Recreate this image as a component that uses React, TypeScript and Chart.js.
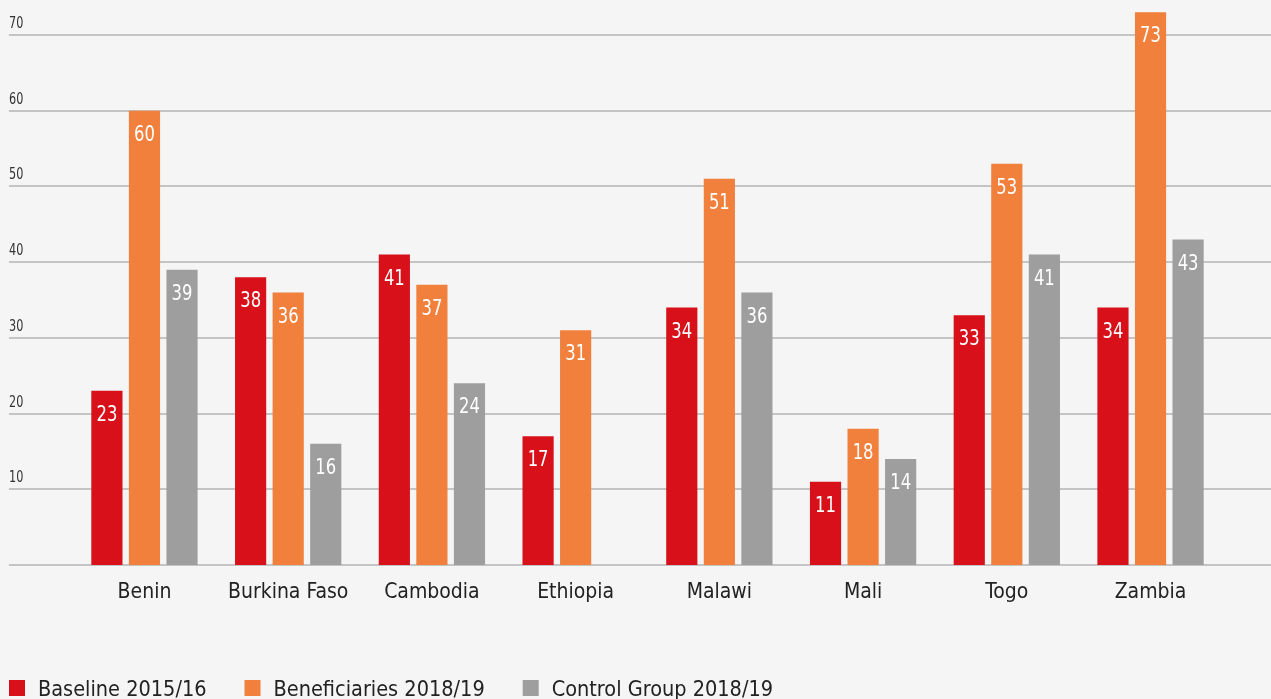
import { useEffect, useRef } from "react";
import { Chart, registerables } from "chart.js";

Chart.register(...registerables);

const categories = ["Benin", "Burkina Faso", "Cambodia", "Ethiopia", "Malawi", "Mali", "Togo", "Zambia"];
const baseline = [23, 38, 41, 17, 34, 11, 33, 34];
const beneficiaries = [60, 36, 37, 31, 51, 18, 53, 73];
const control: (number | null)[] = [39, 16, 24, null, 36, 14, 41, 43];
const seriesLabels = ["Baseline 2015/16", "Beneficiaries 2018/19", "Control Group 2018/19"];
const seriesColors = ["#d7101a", "#f0803c", "#9e9e9e"];
const yTicks = [0, 10, 20, 30, 40, 50, 60, 70];

const FONT = '"DejaVu Sans Condensed", "DejaVu Sans", sans-serif';
const W = 1271;
const H = 699;

function drawText(ctx: any, text: string, x: number, y: number, sx: number) {
  ctx.save();
  ctx.translate(x, y);
  ctx.scale(sx, 1);
  ctx.fillText(text, 0, 0);
  ctx.restore();
}

const bgPlugin = {
  id: "bg",
  beforeDraw(chart: any) {
    const ctx = chart.ctx;
    ctx.save();
    ctx.fillStyle = "#f5f5f5";
    ctx.fillRect(0, 0, chart.width, chart.height);
    ctx.restore();
  },
};

const gridPlugin = {
  id: "customGrid",
  beforeDatasetsDraw(chart: any) {
    const ctx = chart.ctx;
    const y = chart.scales.y;
    ctx.save();
    yTicks.forEach((v) => {
      const py = Math.round(y.getPixelForValue(v));
      ctx.strokeStyle = "#c4c4c4";
      ctx.lineWidth = 2;
      ctx.beginPath();
      ctx.moveTo(9, py);
      ctx.lineTo(chart.width, py);
      ctx.stroke();
      if (v !== 0) {
        ctx.fillStyle = "#333333";
        ctx.font = `16px ${FONT}`;
        ctx.textAlign = "left";
        ctx.textBaseline = "alphabetic";
        drawText(ctx, String(v), 9, py - 7, 0.78);
      }
    });
    ctx.restore();
  },
};

const xLabelPlugin = {
  id: "xLabels",
  afterDraw(chart: any) {
    const ctx = chart.ctx;
    const x = chart.scales.x;
    ctx.save();
    ctx.fillStyle = "#222222";
    ctx.font = `21px ${FONT}`;
    ctx.textAlign = "center";
    ctx.textBaseline = "alphabetic";
    categories.forEach((c, i) => {
      drawText(ctx, c, x.getPixelForValue(i), chart.chartArea.bottom + 32.5, 1);
    });
    ctx.restore();
  },
};

const labelPlugin = {
  id: "barLabels",
  afterDatasetsDraw(chart: any) {
    const ctx = chart.ctx;
    ctx.save();
    ctx.fillStyle = "#ffffff";
    ctx.font = `22px ${FONT}`;
    ctx.textAlign = "center";
    ctx.textBaseline = "alphabetic";
    chart.data.datasets.forEach((ds: any, di: number) => {
      const meta = chart.getDatasetMeta(di);
      meta.data.forEach((el: any, i: number) => {
        const v = ds.data[i];
        if (v === null || v === undefined) return;
        drawText(ctx, String(v), el.x, el.y + 30.2, 0.83);
      });
    });
    ctx.restore();
  },
};

const legendPlugin = {
  id: "customLegend",
  afterDraw(chart: any) {
    const ctx = chart.ctx;
    ctx.save();
    ctx.font = `21.5px ${FONT}`;
    ctx.textAlign = "left";
    ctx.textBaseline = "alphabetic";
    let x = 9;
    const top = 680;
    chart.data.datasets.forEach((ds: any) => {
      ctx.fillStyle = ds.backgroundColor;
      ctx.fillRect(x, top, 16, 16);
      ctx.fillStyle = "#222222";
      drawText(ctx, ds.label, x + 29, top + 16, 1);
      x += 29 + ctx.measureText(ds.label).width + 38;
    });
    ctx.restore();
  },
};

export default function App() {
  const ref = useRef<HTMLCanvasElement | null>(null);

  useEffect(() => {
    document.body.style.margin = "0";
    document.body.style.background = "#f5f5f5";
    if (!ref.current) return;
    const chart = new Chart(ref.current, {
      type: "bar",
      data: {
        labels: categories,
        datasets: [
          { label: seriesLabels[0], data: baseline, backgroundColor: seriesColors[0] },
          { label: seriesLabels[1], data: beneficiaries, backgroundColor: seriesColors[1] },
          { label: seriesLabels[2], data: control, backgroundColor: seriesColors[2] },
        ],
      },
      options: {
        responsive: false,
        animation: false,
        layout: { padding: { left: 72.6, right: 48.6, top: 0, bottom: 94 } },
        datasets: {
          bar: { categoryPercentage: 0.784, barPercentage: 0.83 },
        },
        plugins: {
          legend: { display: false },
          tooltip: { enabled: false },
        },
        scales: {
          x: {
            grid: { display: false, drawTicks: false },
            border: { display: false },
            ticks: { display: false },
            afterFit: (scale: any) => {
              scale.height = 40;
            },
          },
          y: {
            display: false,
            min: 0,
            max: 74.62,
          },
        },
      },
      plugins: [bgPlugin, gridPlugin, labelPlugin, xLabelPlugin, legendPlugin],
    });
    return () => chart.destroy();
  }, []);

  return (
    <div style={{ width: W, height: H, background: "#f5f5f5" }}>
      <canvas ref={ref} width={W} height={H} style={{ display: "block" }} />
    </div>
  );
}
